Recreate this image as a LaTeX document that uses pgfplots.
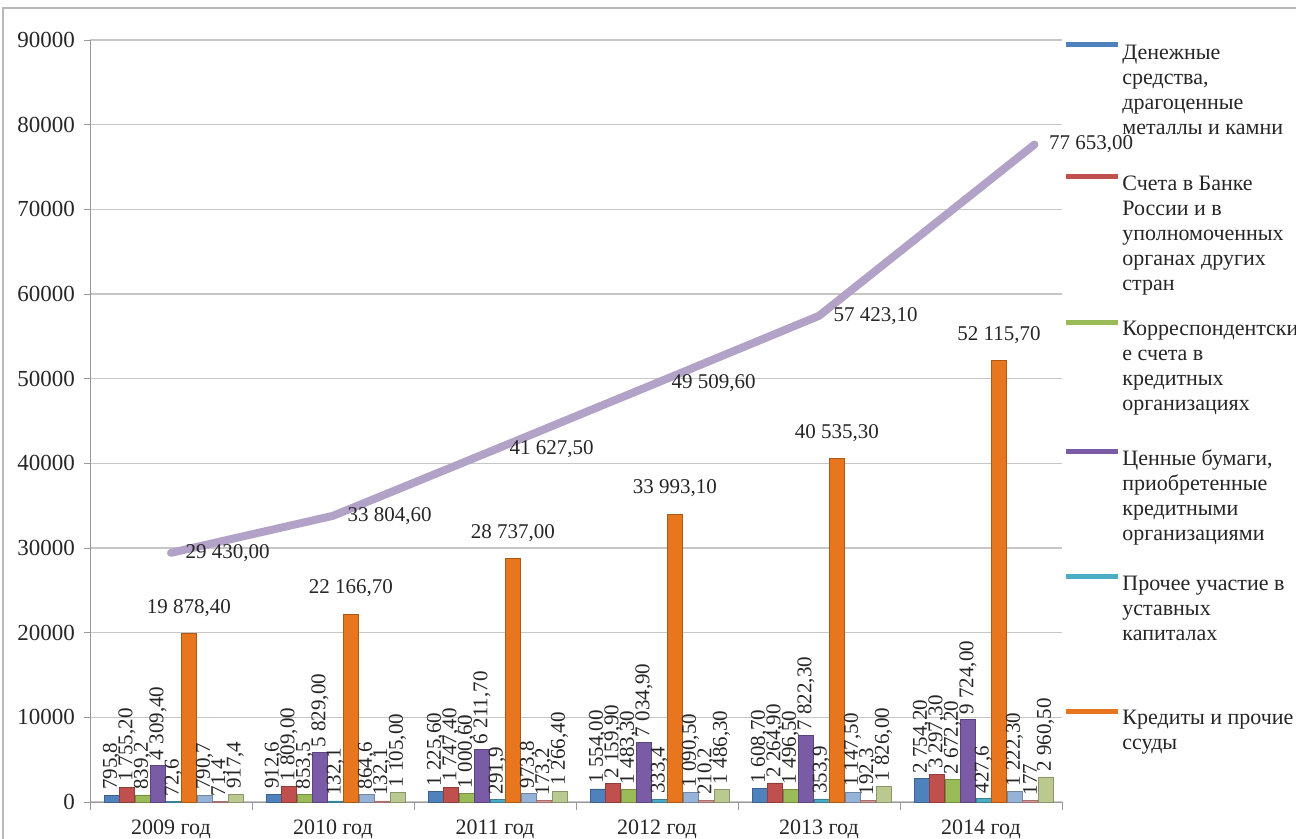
\documentclass[border=0pt]{standalone}
\usepackage{fontspec}
\setmainfont{Liberation Serif}
\usepackage{graphicx}
\usepackage{pgfplots}
\pgfplotsset{compat=1.18}
\definecolor{cBlue}{HTML}{4F81BD}
\definecolor{cRed}{HTML}{C0504D}
\definecolor{cGreen}{HTML}{9BBB59}
\definecolor{cPurple}{HTML}{7A5CA6}
\definecolor{cCyan}{HTML}{4BACC6}
\definecolor{cOrange}{HTML}{E8761E}
\definecolor{cLBlue}{HTML}{95B3D7}
\definecolor{cPink}{HTML}{D99694}
\definecolor{cLGreen}{HTML}{B9C98F}
\definecolor{cLine}{HTML}{B3A2C7}
\newcommand{\lblfont}{\fontsize{10.5}{12}\selectfont}
\newcommand{\legfont}{\fontsize{11}{12.5}\selectfont}
\pgfplotsset{
  mybar/.style 2 args={ybar, bar width=7.4pt, bar shift=#2, fill=#1, draw=#1!75!black, line width=0.3pt,
    nodes near coords={\rotatebox{90}{\pgfplotspointmeta}}, point meta=explicit symbolic,
    every node near coord/.append style={xshift=#2, font=\lblfont, text=black!85, inner sep=2.5pt}},
}
\begin{document}
\begin{tikzpicture}
\useasboundingbox (0,0) rectangle (648pt,419.5pt);
\draw[gray!55, line width=0.8pt] (1.5pt,-5pt) rectangle (660pt,415.5pt);
\begin{axis}[
  at={(45pt,18.5pt)}, anchor=south west,
  scale only axis, width=486pt, height=381pt,
  xmin=-0.5, xmax=5.5, ymin=0, ymax=90000,
  clip=false, scaled y ticks=false,
  separate axis lines,
  axis x line*=bottom, axis y line*=left,
  axis line style={draw=gray!80, -},
  ytick={0,10000,20000,30000,40000,50000,60000,70000,80000,90000},
  yticklabels={0,10000,20000,30000,40000,50000,60000,70000,80000,90000},
  ymajorgrids, grid style={gray!45, line width=0.6pt},
  xtick={0,1,2,3,4,5},
  xticklabels={2009 год,2010 год,2011 год,2012 год,2013 год,2014 год},
  minor xtick={-0.5,0.5,1.5,2.5,3.5,4.5,5.5},
  major x tick style={draw=none},
  minor x tick style={draw=gray!80},
  ytick style={draw=gray!80},
  tick align=outside, major tick length=3pt, minor tick length=4pt,
  tick label style={text=black!85},
  xticklabel style={yshift=-2.5pt, font=\fontsize{11}{12}\selectfont},
  yticklabel style={xshift=-1pt, font=\fontsize{11.5}{12}\selectfont},
]
\addplot[mybar={cBlue}{-29.8pt}] coordinates {(0,795.8)[795,8] (1,912.6)[912,6] (2,1225.6)[1 225,60] (3,1554.0)[1 554,00] (4,1608.7)[1 608,70] (5,2754.2)[2 754,20]};
\addplot[mybar={cRed}{-22.05pt}] coordinates {(0,1755.2)[1 755,20] (1,1809.0)[1 809,00] (2,1747.4)[1 747,40] (3,2159.9)[2 159,90] (4,2264.9)[2 264,90] (5,3297.3)[3 297,30]};
\addplot[mybar={cGreen}{-14.3pt}] coordinates {(0,839.2)[839,2] (1,853.5)[853,5] (2,1000.6)[1 000,60] (3,1483.3)[1 483,30] (4,1496.5)[1 496,50] (5,2672.2)[2 672,20]};
\addplot[mybar={cPurple}{-6.55pt}] coordinates {(0,4309.4)[4 309,40] (1,5829.0)[5 829,00] (2,6211.7)[6 211,70] (3,7034.9)[7 034,90] (4,7822.3)[7 822,30] (5,9724.0)[9 724,00]};
\addplot[mybar={cCyan}{1.2pt}] coordinates {(0,72.6)[72,6] (1,132.1)[132,1] (2,291.9)[291,9] (3,333.4)[333,4] (4,353.9)[353,9] (5,427.6)[427,6]};
\addplot[mybar={cOrange}{8.95pt}, nodes near coords={\pgfplotspointmeta}, every node near coord/.append style={yshift=6pt}] coordinates {(0,19878.4)[19 878,40] (1,22166.7)[22 166,70] (2,28737.0)[28 737,00] (3,33993.1)[33 993,10] (4,40535.3)[40 535,30] (5,52115.7)[52 115,70]};
\addplot[mybar={cLBlue}{16.7pt}] coordinates {(0,790.7)[790,7] (1,864.6)[864,6] (2,973.8)[973,8] (3,1090.5)[1 090,50] (4,1147.5)[1 147,50] (5,1222.3)[1 222,30]};
\addplot[mybar={cPink}{24.45pt}] coordinates {(0,71.4)[71,4] (1,132.1)[132,1] (2,173.2)[173,2] (3,210.2)[210,2] (4,192.3)[192,3] (5,177)[177]};
\addplot[mybar={cLGreen}{32.2pt}] coordinates {(0,917.4)[917,4] (1,1105.0)[1 105,00] (2,1266.4)[1 266,40] (3,1486.3)[1 486,30] (4,1826.0)[1 826,00] (5,2960.5)[2 960,50]};
\addplot[sharp plot, draw=cLine, line width=4pt, line cap=round, line join=round, mark=none,
  nodes near coords, point meta=explicit symbolic,
  every node near coord/.append style={anchor=west, xshift=2pt, font=\lblfont, text=black!85}]
  coordinates {(0,29430.0)[29 430,00] (1,33804.6)[33 804,60] (2,41627.5)[41 627,50] (3,49509.6)[49 509,60] (4,57423.1)[57 423,10] (5.33,77653.0)[77 653,00]};
\end{axis}
% legend
\begin{scope}[every node/.style={anchor=north west, align=left, inner sep=0pt, font=\legfont, text=black!85}]
\fill[cBlue]   (533pt,395.8pt) rectangle (559pt,398.3pt);
\node at (561pt,397pt) {Денежные\\средства,\\драгоценные\\металлы и камни};
\fill[cRed]    (533pt,329.8pt) rectangle (559pt,332.3pt);
\node at (561pt,331.5pt) {Счета в Банке\\России и в\\уполномоченных\\органах других\\стран};
\fill[cGreen]  (533pt,256.8pt) rectangle (559pt,259.3pt);
\node at (561pt,259pt) {Корреспондентски\\е счета в\\кредитных\\организациях};
\fill[cPurple] (533pt,192.3pt) rectangle (559pt,194.8pt);
\node at (561pt,195pt) {Ценные бумаги,\\приобретенные\\кредитными\\организациями};
\fill[cCyan]   (533pt,129.8pt) rectangle (559pt,132.3pt);
\node at (561pt,131.5pt) {Прочее участие в\\уставных\\капиталах};
\fill[cOrange] (533pt,62.3pt) rectangle (559pt,64.8pt);
\node at (561pt,64.5pt) {Кредиты и прочие\\ссуды};
\end{scope}
\end{tikzpicture}
\end{document}
